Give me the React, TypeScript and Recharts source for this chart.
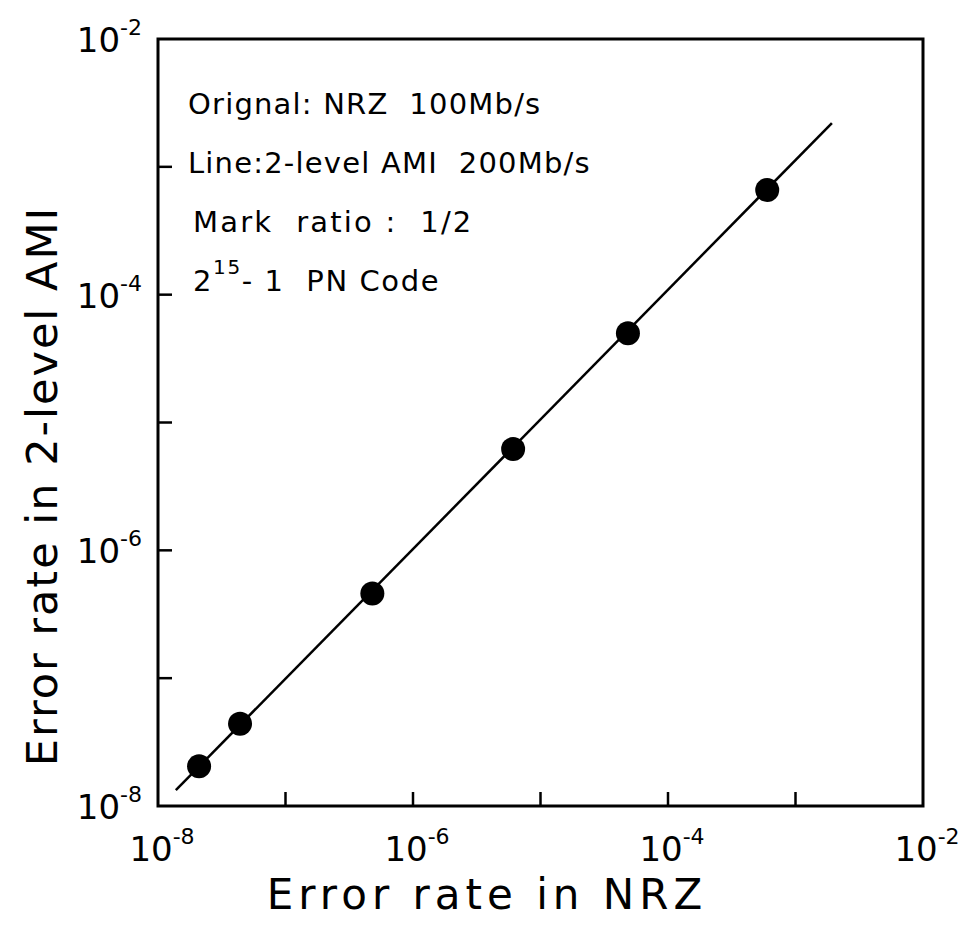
import {
  ComposedChart,
  Scatter,
  Line,
  XAxis,
  YAxis,
  ReferenceArea,
} from "recharts";

// measured points (NRZ error rate vs 2-level AMI error rate)
const nrzRate = [2.1e-8, 4.4e-8, 4.8e-7, 6.1e-6, 4.85e-5, 6.0e-4];
const amiRate = [2.05e-8, 4.4e-8, 4.6e-7, 6.2e-6, 5.0e-5, 6.6e-4];

// drawn straight line end points
const fitNrz = [1.38e-8, 1.93e-3];
const fitAmi = [1.33e-8, 2.2e-3];

const decadeTicks = [1e-8, 1e-7, 1e-6, 1e-5, 1e-4, 1e-3, 1e-2];

const notes = [
  "Orignal: NRZ  100Mb/s",
  "Line:2-level AMI  200Mb/s",
  "Mark  ratio :  1/2",
];

const points = nrzRate.map((x, i) => ({ x, y: amiRate[i] }));
const fitLine = fitNrz.map((x, i) => ({ x, y: fitAmi[i] }));

const FONT = "DejaVu Sans, sans-serif";

const expOf = (v: number) => Math.round(Math.log10(v));

const XTick = (props: any) => {
  const { x, y, payload } = props;
  const e = expOf(payload.value);
  return (
    <g>
      {e > -8 && e < -2 && (
        <line x1={x} y1={y} x2={x} y2={y - 14} stroke="#000" strokeWidth={2.5} />
      )}
      {e % 2 === 0 && (
        <text
          x={x + 4}
          y={y + 55}
          textAnchor="middle"
          fontFamily={FONT}
          fontSize={34}
          fill="#000"
        >
          10
          <tspan dy={-17} fontSize={22}>
            {`-${-e}`}
          </tspan>
        </text>
      )}
    </g>
  );
};

const YTick = (props: any) => {
  const { x, y, payload } = props;
  const e = expOf(payload.value);
  return (
    <g>
      {e > -8 && e < -2 && (
        <line x1={x} y1={y} x2={x + 14} y2={y} stroke="#000" strokeWidth={2.5} />
      )}
      {e % 2 === 0 && (
        <text
          x={x - 16}
          y={y + 13}
          textAnchor="end"
          fontFamily={FONT}
          fontSize={34}
          fill="#000"
        >
          10
          <tspan dy={-17} fontSize={22}>
            {`-${-e}`}
          </tspan>
        </text>
      )}
    </g>
  );
};

const Dot = (props: any) => {
  const { cx, cy } = props;
  return <circle cx={cx} cy={cy} r={12} fill="#000" />;
};

export default function App() {
  return (
    <div
      style={{
        position: "absolute",
        left: 0,
        top: 0,
        width: 965,
        height: 927,
        background: "#fff",
      }}
    >
      <ComposedChart
        width={965}
        height={927}
        margin={{ top: 39, right: 42, left: 0, bottom: 0 }}
      >
        <XAxis
          dataKey="x"
          type="number"
          scale="log"
          domain={[1e-8, 1e-2]}
          ticks={decadeTicks}
          allowDataOverflow
          axisLine={false}
          tickLine={false}
          tickSize={0}
          tickMargin={0}
          tick={<XTick />}
          interval={0}
          height={121}
        />
        <YAxis
          dataKey="y"
          type="number"
          scale="log"
          domain={[1e-8, 1e-2]}
          ticks={decadeTicks}
          allowDataOverflow
          axisLine={false}
          tickLine={false}
          tickSize={0}
          tickMargin={0}
          tick={<YTick />}
          interval={0}
          width={158}
        />
        <ReferenceArea
          x1={1e-8}
          x2={1e-2}
          y1={1e-8}
          y2={1e-2}
          fill="#fff"
          fillOpacity={0}
          stroke="#000"
          strokeWidth={3}
        />
        <Line
          data={fitLine}
          dataKey="y"
          type="linear"
          stroke="#000"
          strokeWidth={2.5}
          dot={false}
          activeDot={false}
          isAnimationActive={false}
        />
        <Scatter
          data={points}
          dataKey="y"
          fill="#000"
          shape={<Dot />}
          isAnimationActive={false}
        />
      </ComposedChart>

      <svg
        width={965}
        height={927}
        style={{ position: "absolute", left: 0, top: 0, pointerEvents: "none" }}
      >
        {notes.map((t, i) => (
          <text
            key={t}
            x={i === 2 ? 193 : 188}
            y={114 + i * 59}
            fontFamily={FONT}
            fontSize={29}
            letterSpacing={i === 2 ? 2.2 : 1.2}
            fill="#000"
            style={{ whiteSpace: "pre" }}
          >
            {t}
          </text>
        ))}
        <text
          x={193}
          y={291}
          fontFamily={FONT}
          fontSize={29}
          letterSpacing={1.6}
          fill="#000"
          style={{ whiteSpace: "pre" }}
        >
          2
          <tspan dy={-17} fontSize={20}>
            15
          </tspan>
          <tspan dy={17}>{"- 1  PN Code"}</tspan>
        </text>
        <text
          x={487}
          y={909}
          textAnchor="middle"
          fontFamily={FONT}
          fontSize={42}
          letterSpacing={5}
          fill="#000"
        >
          Error rate in NRZ
        </text>
        <text
          transform="translate(57, 486) rotate(-90)"
          textAnchor="middle"
          fontFamily={FONT}
          fontSize={43}
          letterSpacing={2}
          fill="#000"
        >
          Error rate in 2-level AMI
        </text>
      </svg>
    </div>
  );
}
